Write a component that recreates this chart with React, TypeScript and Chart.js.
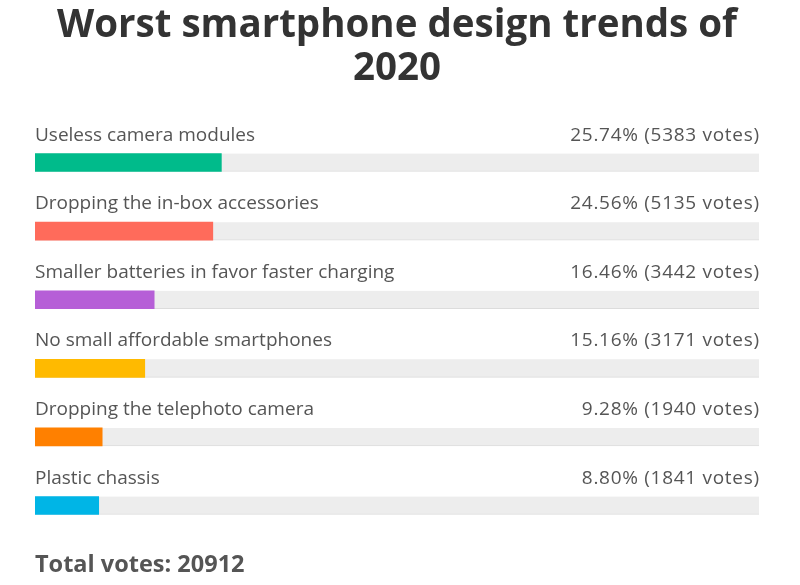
import React, { useEffect, useRef } from "react";
import { Chart, registerables } from "chart.js";

Chart.register(...registerables);

const categories = [
  "Useless camera modules",
  "Dropping the in-box accessories",
  "Smaller batteries in favor faster charging",
  "No small affordable smartphones",
  "Dropping the telephoto camera",
  "Plastic chassis",
];
const percentages = [25.74, 24.56, 16.46, 15.16, 9.28, 8.8];
const votes = [5383, 5135, 3442, 3171, 1940, 1841];
const totalVotes = 20912;
const trackValues = [100, 100, 100, 100, 100, 100];
const barColors = ["#00bb8b", "#ff6b5b", "#b65fd7", "#ffba00", "#ff8000", "#00b5e6"];
const titleLines = ["Worst smartphone design trends of", "2020"];

const FONT = "'Open Sans', 'DejaVu Sans', sans-serif";

const labelPlugin = {
  id: "pollLabels",
  afterDatasetsDraw(chart: any) {
    const ctx = chart.ctx;
    const meta = chart.getDatasetMeta(0);
    const area = chart.chartArea;
    ctx.save();
    ctx.font = `400 19px ${FONT}`;
    ctx.fillStyle = "#555555";
    ctx.textBaseline = "alphabetic";
    meta.data.forEach((bar: any, i: number) => {
      const y = bar.y - 22;
      ctx.textAlign = "left";
      (ctx as any).letterSpacing = "0px";
      ctx.fillText(categories[i], area.left, y);
      ctx.textAlign = "right";
      (ctx as any).letterSpacing = "0.7px";
      ctx.fillText(`${percentages[i].toFixed(2)}% (${votes[i]} votes)`, area.right + 0.7, y);
    });
    (ctx as any).letterSpacing = "0px";
    ctx.restore();
  },
};

export default function App() {
  const ref = useRef<HTMLCanvasElement | null>(null);
  useEffect(() => {
    document.body.style.margin = "0";
    const chart = new Chart(ref.current as HTMLCanvasElement, {
      type: "bar",
      data: {
        labels: categories,
        datasets: [
          {
            label: "Percent",
            data: percentages,
            backgroundColor: barColors,
            barThickness: 18,
            grouped: false,
            order: 1,
            borderWidth: 0,
          } as any,
          {
            label: "Track",
            data: trackValues,
            backgroundColor: "#ededed",
            borderColor: "#dcdcdc",
            borderWidth: { top: 0, left: 0, right: 0, bottom: 1 },
            borderSkipped: false,
            barThickness: 18,
            grouped: false,
            order: 2,
          } as any,
        ],
      },
      options: {
        indexAxis: "y",
        animation: false,
        responsive: true,
        maintainAspectRatio: false,
        layout: { padding: { left: 35, right: 41, top: 0, bottom: 0 } },
        scales: {
          x: { display: false, min: 0, max: 100 },
          y: { display: false },
        },
        plugins: {
          legend: { display: false },
          tooltip: { enabled: false },
          title: {
            display: true,
            text: titleLines,
            color: "#333333",
            font: { family: FONT, size: 38.5, weight: "bold", lineHeight: 1.12 },
            padding: { top: 4, bottom: 38 },
          },
          subtitle: {
            display: true,
            position: "bottom",
            align: "start",
            text: `Total votes: ${totalVotes}`,
            color: "#555555",
            font: { family: FONT, size: 23.5, weight: "bold", lineHeight: 1.2 },
            padding: { top: 11, bottom: 6 },
          },
        },
      } as any,
      plugins: [labelPlugin],
    });
    return () => chart.destroy();
  }, []);
  return (
    <div style={{ position: "absolute", left: 0, top: 0, width: 800, height: 585, background: "#ffffff" }}>
      <canvas ref={ref} />
    </div>
  );
}
